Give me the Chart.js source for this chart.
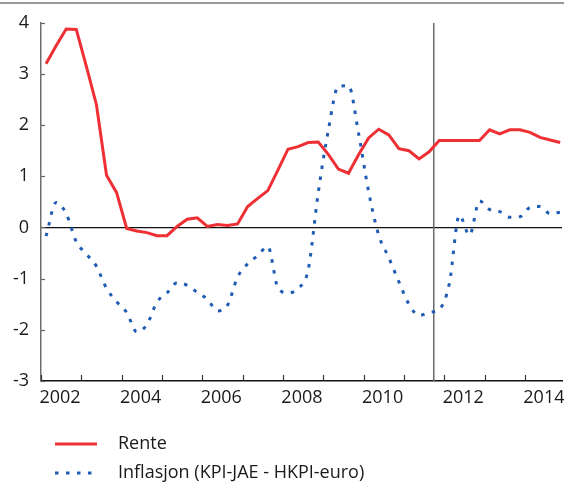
<!DOCTYPE html>
<html><head><meta charset="utf-8">
<script src="https://cdn.jsdelivr.net/npm/chart.js@4/dist/chart.umd.min.js"></script>
<style>html,body{margin:0;padding:0;background:#fff;}#wrap{width:564px;height:482px;}</style>
</head><body><div id="wrap"><canvas id="c" width="564" height="482"></canvas></div>
<script>
// Categories: quarters 2002K1 .. 2014K4
const years = [2002,2003,2004,2005,2006,2007,2008,2009,2010,2011,2012,2013,2014];
const quarters = [];
years.forEach(y => { for (let q = 1; q <= 4; q++) quarters.push(y + 'K' + q); });

const rente = [3.2,3.55,3.88,3.87,3.15,2.4,1.02,0.68,-0.02,-0.07,-0.1,-0.16,-0.16,0.02,0.16,0.19,0.02,0.06,0.04,0.07,0.41,0.57,0.72,1.12,1.53,1.58,1.66,1.67,1.43,1.14,1.06,1.42,1.75,1.92,1.81,1.54,1.50,1.34,1.48,1.70,1.70,1.70,1.70,1.70,1.91,1.83,1.91,1.91,1.86,1.76,1.71,1.66];
const inflasjon = [-0.17,0.49,0.27,-0.28,-0.52,-0.76,-1.19,-1.45,-1.66,-2.04,-1.9,-1.46,-1.28,-1.08,-1.13,-1.27,-1.40,-1.63,-1.52,-0.97,-0.71,-0.55,-0.37,-1.18,-1.28,-1.19,-0.83,0.68,1.9,2.76,2.77,1.84,0.7,-0.15,-0.59,-1.06,-1.5,-1.72,-1.66,-1.6,-1.1,0.24,-0.15,0.52,0.35,0.31,0.2,0.21,0.39,0.41,0.27,0.3];
const seriesNames = ['Rente', 'Inflasjon (KPI-JAE - HKPI-euro)'];
const xTickLabels = ['2002','2004','2006','2008','2010','2012','2014'];
const yMin = -3, yMax = 4;
const xMin = 2002, xMax = 2014.92;
const markerYear = 2011.74;

function qx(q){ return parseInt(q.slice(0,4),10) + (parseInt(q.slice(5),10) - 0.5) / 4; }

const FONT = '"Open Sans", "DejaVu Sans", sans-serif';
const TEXT = '#1a1a1a';

const frame = {
  id: 'frame',
  beforeDraw(chart){
    const c = chart.ctx;
    c.save();
    c.fillStyle = '#fff';
    c.fillRect(0,0,chart.width,chart.height);
    c.strokeStyle = '#777';
    c.lineWidth = 1.7;
    c.beginPath(); c.moveTo(0,3); c.lineTo(chart.width,3); c.stroke();
    c.restore();
  }
};

// inward tick marks, placed by the library's scales
const innerTicks = {
  id: 'innerTicks',
  afterDatasetsDraw(chart){
    const c = chart.ctx, xs = chart.scales.x, ys = chart.scales.y, a = chart.chartArea;
    c.save();
    c.lineWidth = 1.2;
    c.strokeStyle = '#333';
    xs.ticks.forEach(t => {
      const px = Math.round(xs.getPixelForValue(t.value)) + 0.5;
      c.beginPath(); c.moveTo(px, a.bottom); c.lineTo(px, a.bottom - 6); c.stroke();
    });
    c.strokeStyle = '#666';
    ys.ticks.forEach(t => {
      const py = Math.round(ys.getPixelForValue(t.value)) + 0.5;
      c.beginPath(); c.moveTo(a.left, py); c.lineTo(a.left + 4, py); c.stroke();
    });
    c.restore();
  }
};

const legend = {
  id: 'stackLegend',
  afterDraw(chart){
    const c = chart.ctx;
    const rows = [444, 473];
    [0,1].forEach(i => {
      const ds = chart.data.datasets[i];
      c.save();
      c.strokeStyle = ds.borderColor;
      c.lineWidth = ds.borderWidth;
      c.setLineDash(ds.borderDash || []);
      c.beginPath(); c.moveTo(55, rows[i]); c.lineTo(97, rows[i]); c.stroke();
      c.setLineDash([]);
      c.fillStyle = TEXT;
      c.font = '18px ' + FONT;
      c.textBaseline = 'middle';
      c.fillText(ds.label, 118, rows[i]);
      c.restore();
    });
  }
};

new Chart(document.getElementById('c'), {
  type: 'line',
  data: {
    datasets: [
      { label: seriesNames[0], data: quarters.map((q,i)=>({x:qx(q), y:rente[i]})),
        borderColor: '#ee3035', borderWidth: 3, pointRadius: 0, tension: 0 },
      { label: seriesNames[1], data: quarters.map((q,i)=>({x:qx(q), y:inflasjon[i]})),
        borderColor: '#1f5cb3', borderWidth: 3, borderDash: [3.5, 7.5], pointRadius: 0,
        cubicInterpolationMode: 'monotone' },
      { label: 'marker', data: [{x:markerYear, y:yMin},{x:markerYear, y:yMax}],
        borderColor: '#6b6b6b', borderWidth: 1.5, pointRadius: 0 }
    ]
  },
  options: {
    responsive: false, animation: false, devicePixelRatio: 1,
    layout: { padding: { left: 0, right: 2, top: 21, bottom: 71 } },
    plugins: { legend: { display: false }, tooltip: { enabled: false } },
    scales: {
      x: {
        type: 'linear', min: xMin, max: xMax,
        ticks: { stepSize: 1, autoSkip: false, maxRotation: 0, includeBounds: false,
          labelOffset: 19, padding: 6, color: TEXT, font: { family: FONT, size: 18 },
          callback: v => xTickLabels.includes(String(v)) ? String(v) : '' },
        grid: { drawOnChartArea: false, drawTicks: false },
        border: { display: true, color: '#111', width: 1.5 },
        afterFit: s => { s.height = 30; s.paddingLeft = 0; s.paddingRight = 0; }
      },
      y: {
        min: yMin, max: yMax,
        ticks: { stepSize: 1, padding: 12, color: TEXT, font: { family: FONT, size: 18 } },
        grid: { drawOnChartArea: true, drawTicks: false,
          color: ctx => (ctx.tick && ctx.tick.value === 0) ? '#111' : 'rgba(0,0,0,0)', lineWidth: 1.2 },
        border: { display: true, color: '#6e6e6e', width: 1.5 },
        afterFit: s => { s.width = 41; }
      }
    }
  },
  plugins: [frame, innerTicks, legend]
});
</script>
</body></html>
